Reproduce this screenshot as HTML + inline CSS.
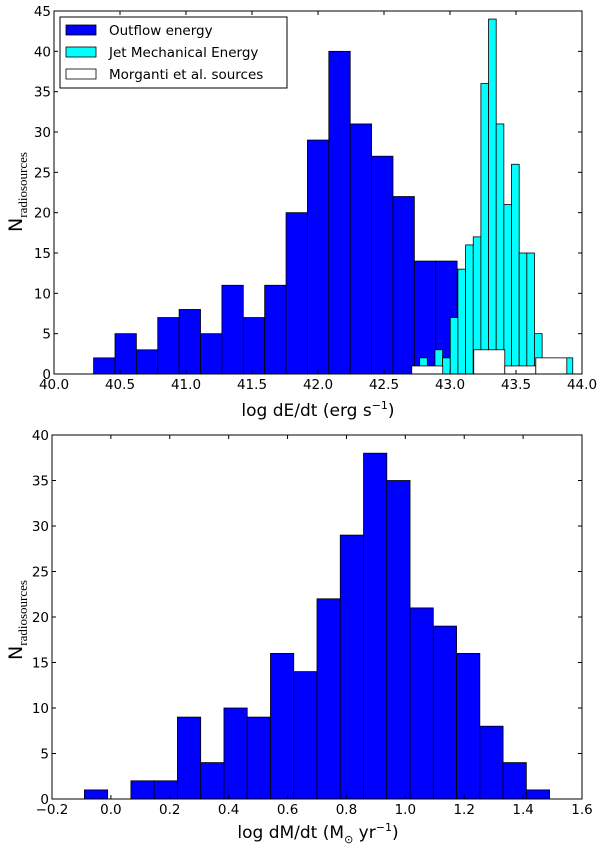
<!DOCTYPE html>
<html><head><meta charset="utf-8"><style>
body{margin:0;background:#fff;}
svg{display:block;font-family:"DejaVu Sans","Liberation Sans",sans-serif;}
</style></head><body>
<svg id="fig" width="600" height="848" xmlns="http://www.w3.org/2000/svg"></svg>
<script>
// ---- top panel data ----
const outflowStart = 40.30, outflowWidth = 0.162;
const outflowCounts = [2,5,3,7,8,5,11,7,11,20,29,40,31,27,22,14,14];
const jetStart = 42.77, jetWidth = 0.058;
const jetCounts = [2,0,3,2,7,13,16,17,36,44,31,21,26,15,15,5,0,0,0,2];
const morgStart = 42.71, morgWidth = 0.235;
const morgCounts = [1,0,3,1,2];
const topXTicks = [40.0,40.5,41.0,41.5,42.0,42.5,43.0,43.5,44.0];
const topYTicks = [0,5,10,15,20,25,30,35,40,45];
// ---- bottom panel data ----
const massStart = -0.09, massWidth = 0.079;
const massCounts = [1,0,2,2,9,4,10,9,16,14,22,29,38,35,21,19,16,8,4,1];
const botXTicks = [-0.2,0.0,0.2,0.4,0.6,0.8,1.0,1.2,1.4,1.6];
const botYTicks = [0,5,10,15,20,25,30,35,40];

const NS="http://www.w3.org/2000/svg";
const fig=document.getElementById('fig');
function mk(tag,attrs,parent){const e=document.createElementNS(NS,tag);for(const k in attrs)e.setAttribute(k,attrs[k]);(parent||fig).appendChild(e);return e;}

function panel(name,L,R,T,B,xmin,xmax,ymax,xticks,yticks,xfmt){
  const g=mk('g',{});
  
  
  const sx=v=>L+(v-xmin)/(xmax-xmin)*(R-L);
  const sy=v=>B-v/ymax*(B-T);
  return {g,sx,sy,L,R,T,B,xticks,yticks,xfmt};
}
function bars(p,start,width,counts,fill,name){
  counts.forEach((c,i)=>{
    if(c<=0)return;
    const x0=p.sx(start+i*width),x1=p.sx(start+(i+1)*width);
    const r=mk('rect',{x:x0,y:p.sy(c),width:x1-x0,height:p.sy(0)-p.sy(c),fill:fill,stroke:'#000','stroke-width':0.8},p.g);
    
    
  });
}
function axes(p){
  const f=mk('rect',{x:p.L,y:p.T,width:p.R-p.L,height:p.B-p.T,fill:'none',stroke:'#000','stroke-width':1},p.g);
  
  
  p.xticks.forEach(v=>{
    const x=p.sx(v);
    mk('line',{x1:x,y1:p.B,x2:x,y2:p.B-4,stroke:'#000'},p.g);
    mk('line',{x1:x,y1:p.T,x2:x,y2:p.T+4,stroke:'#000'},p.g);
    const t=mk('text',{x:x,y:p.B+15,'font-size':13.5,'text-anchor':'middle'},p.g);
    t.textContent=p.xfmt(v);
    
    
  });
  p.yticks.forEach(v=>{
    const y=p.sy(v);
    mk('line',{x1:p.L,y1:y,x2:p.L+4,y2:y,stroke:'#000'},p.g);
    mk('line',{x1:p.R,y1:y,x2:p.R-4,y2:y,stroke:'#000'},p.g);
    const t=mk('text',{x:p.L-3,y:y+5,'font-size':13.5,'text-anchor':'end'},p.g);
    t.textContent=String(v);
    
    
  });
}
function ylabel(cx,cy){
  const t=mk('text',{transform:`translate(${cx},${cy}) rotate(-90)`,'text-anchor':'middle'});
  
  
  t.innerHTML='<tspan font-size="19">N</tspan><tspan font-size="13" font-family="Liberation Serif,serif" dy="5">radiosources</tspan>';
}

// top
const pt=panel('top-panel',54,582,11,374,40,44,45,topXTicks,topYTicks,v=>v.toFixed(1));
bars(pt,outflowStart,outflowWidth,outflowCounts,'#0000ff','outflow');
bars(pt,jetStart,jetWidth,jetCounts,'#00ffff','jet');
bars(pt,morgStart,morgWidth,morgCounts,'#ffffff','morganti');
axes(pt);
ylabel(22,192);
let xl=mk('text',{x:318,y:416,'font-size':17,'text-anchor':'middle'});


xl.innerHTML='log dE/dt (erg s<tspan font-size="11" dy="-7">−1</tspan><tspan dy="7">)</tspan>';

// legend
const lg=mk('g',{});


mk('rect',{x:60,y:17,width:227,height:71,fill:'#fff',stroke:'#000','stroke-width':1},lg);
[['Outflow energy','#0000ff'],['Jet Mechanical Energy','#00ffff'],['Morganti et al. sources','#ffffff']].forEach((e,i)=>{
  const y=30+i*22;
  const r=mk('rect',{x:66,y:y-5,width:30,height:10,fill:e[1],stroke:'#000','stroke-width':0.8},lg);
  
  
  const t=mk('text',{x:109,y:y+5,'font-size':13.5},lg);
  t.textContent=e[0];
  
  
});

// bottom
const pb=panel('bottom-panel',52,582,435,799,-0.2,1.6,40,botXTicks,botYTicks,v=>(v<0?'−':'')+Math.abs(v).toFixed(1));
bars(pb,massStart,massWidth,massCounts,'#0000ff','mass-outflow');
axes(pb);
ylabel(22,620);
xl=mk('text',{x:318,y:838,'font-size':17,'text-anchor':'middle'});


xl.innerHTML='log dM/dt (M<tspan font-size="11" dy="5">⊙</tspan><tspan dy="-5"> yr</tspan><tspan font-size="11" dy="-7">−1</tspan><tspan dy="7">)</tspan>';
</script>
</body></html>
